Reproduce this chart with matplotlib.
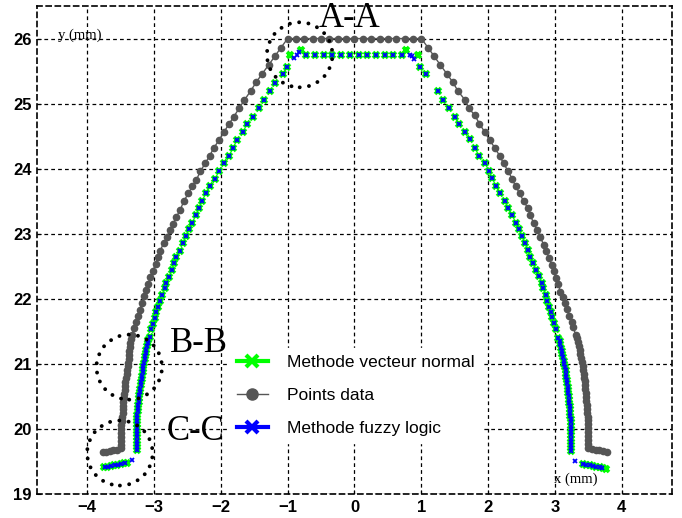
import numpy as np
import matplotlib
matplotlib.use("Agg")
import matplotlib.pyplot as plt
from matplotlib.lines import Line2D
from matplotlib.patches import Ellipse

plt.rcParams['font.family'] = ['Liberation Sans', 'DejaVu Sans']

# ─── Profile points (mm) ───
# measured data, left side from the foot up to the top corner
data_left_x = [-3.77, -3.72, -3.66, -3.61, -3.55, -3.50,
               -3.50, -3.50, -3.50, -3.49, -3.49, -3.49, -3.48, -3.48, -3.47, -3.47,
               -3.46, -3.46, -3.455, -3.45, -3.44, -3.435, -3.43, -3.42, -3.41, -3.40,
               -3.395, -3.385, -3.38, -3.375, -3.37, -3.36, -3.355, -3.345,
               -3.33, -3.30, -3.275, -3.245, -3.215, -3.185, -3.155, -3.115, -3.085,
               -3.055, -3.015, -2.975, -2.945, -2.905, -2.855, -2.805, -2.765, -2.715,
               -2.665, -2.605, -2.555, -2.485, -2.425, -2.365, -2.305, -2.235, -2.165,
               -2.105, -2.025, -1.955, -1.875, -1.805, -1.725, -1.65, -1.55, -1.47,
               -1.38, -1.28, -1.19, -1.10]
data_left_y = [19.64, 19.65, 19.66, 19.67, 19.68, 19.70,
               19.76, 19.82, 19.88, 19.94, 20.00, 20.06, 20.12, 20.18, 20.24, 20.30,
               20.36, 20.42, 20.48, 20.54, 20.60, 20.66, 20.72, 20.78, 20.84, 20.90,
               20.96, 21.02, 21.08, 21.14, 21.20, 21.26, 21.32, 21.38,
               21.45, 21.55, 21.64, 21.74, 21.83, 21.93, 22.04, 22.14, 22.23,
               22.33, 22.43, 22.54, 22.64, 22.74, 22.86, 22.95, 23.05, 23.15,
               23.26, 23.37, 23.50, 23.62, 23.73, 23.83, 23.96, 24.08, 24.20,
               24.32, 24.44, 24.56, 24.69, 24.80, 24.93, 25.05, 25.20, 25.33,
               25.46, 25.60, 25.73, 25.86]
# measured data, flat top
data_top_x = [-1.0, -0.875, -0.75, -0.625, -0.5, -0.375, -0.25, -0.125, 0.0,
              0.125, 0.25, 0.375, 0.5, 0.625, 0.75, 0.875, 1.0]
data_top_y = [26.0, 26.0, 26.0, 26.0, 26.0, 26.0, 26.0, 26.0, 26.0,
              26.0, 26.0, 26.0, 26.0, 26.0, 26.0, 26.0, 26.0]
# measured data, right side from the top corner down to the foot
data_right_x = [1.10, 1.19, 1.28, 1.38, 1.47, 1.55, 1.65, 1.71, 1.80, 1.87, 1.95,
                2.02, 2.10, 2.17, 2.23, 2.30, 2.36, 2.41, 2.47, 2.53, 2.59, 2.63,
                2.68, 2.73, 2.78, 2.83, 2.87, 2.91, 2.95, 2.98, 3.01, 3.05, 3.08,
                3.12, 3.15, 3.18, 3.21, 3.25, 3.27, 3.31,
                3.33, 3.345, 3.36, 3.37, 3.38, 3.395, 3.405, 3.415, 3.425, 3.43,
                3.44, 3.445, 3.45, 3.455, 3.46, 3.465, 3.47, 3.475, 3.48, 3.485,
                3.49, 3.495, 3.50, 3.50, 3.50, 3.50, 3.50, 3.50, 3.50,
                3.55, 3.61, 3.66, 3.72, 3.78]
data_right_y = [25.86, 25.73, 25.60, 25.46, 25.33, 25.19, 25.06, 24.93, 24.82, 24.69, 24.56,
                24.44, 24.32, 24.20, 24.08, 23.96, 23.84, 23.73, 23.62, 23.50, 23.40, 23.29,
                23.16, 23.06, 22.95, 22.83, 22.73, 22.63, 22.52, 22.42, 22.32, 22.22, 22.11,
                22.03, 21.93, 21.84, 21.74, 21.65, 21.56, 21.45,
                21.39, 21.33, 21.27, 21.21, 21.15, 21.09, 21.03, 20.97, 20.91, 20.85,
                20.79, 20.73, 20.67, 20.61, 20.55, 20.49, 20.43, 20.37, 20.31, 20.25,
                20.19, 20.13, 20.07, 20.01, 19.95, 19.89, 19.83, 19.77, 19.71,
                19.69, 19.68, 19.67, 19.66, 19.64]

# computed profile, wall points shared by both methods
wall_left_x = [-3.255, -3.26, -3.26, -3.26, -3.26, -3.26, -3.26, -3.26, -3.26, -3.255,
               -3.25, -3.25, -3.245, -3.24, -3.235, -3.23, -3.225, -3.22, -3.21, -3.205,
               -3.20, -3.19, -3.185, -3.18, -3.17, -3.165, -3.16, -3.15, -3.14, -3.135,
               -3.125, -3.115, -3.105, -3.095, -3.085,
               -3.065, -3.045, -3.015, -2.985, -2.965, -2.935, -2.905, -2.875, -2.835,
               -2.815, -2.775, -2.735, -2.705, -2.665, -2.615, -2.565, -2.515, -2.475,
               -2.425, -2.375, -2.325, -2.275, -2.215, -2.155, -2.085, -2.025, -1.955,
               -1.885, -1.825, -1.755, -1.675, -1.605, -1.515, -1.435, -1.355, -1.265,
               -1.185, -1.075, -1.005]
wall_left_y = [19.67, 19.72, 19.77, 19.82, 19.87, 19.92, 19.97, 20.02, 20.07, 20.12,
               20.17, 20.22, 20.27, 20.32, 20.37, 20.42, 20.47, 20.52, 20.57, 20.62,
               20.67, 20.72, 20.77, 20.82, 20.87, 20.92, 20.97, 21.02, 21.07, 21.12,
               21.17, 21.22, 21.27, 21.32, 21.37,
               21.42, 21.53, 21.62, 21.70, 21.79, 21.88, 21.97, 22.06, 22.16,
               22.25, 22.34, 22.45, 22.55, 22.64, 22.74, 22.86, 22.96, 23.07,
               23.17, 23.29, 23.40, 23.50, 23.62, 23.73, 23.84, 23.96, 24.08,
               24.20, 24.32, 24.44, 24.56, 24.69, 24.80, 24.93, 25.05, 25.19,
               25.32, 25.45, 25.57]
wall_top_x = [-0.72, -0.59, -0.46, -0.33, -0.20, -0.07, 0.06, 0.19, 0.32, 0.45, 0.58, 0.71]
wall_top_y = [25.75, 25.75, 25.75, 25.75, 25.75, 25.75, 25.75, 25.75, 25.75, 25.75, 25.75, 25.75]
wall_right_x = [0.975, 1.065, 1.25, 1.33, 1.41, 1.50, 1.57, 1.66, 1.73, 1.81, 1.87, 1.95,
                2.01, 2.06, 2.12, 2.18, 2.25, 2.30, 2.35, 2.41, 2.46, 2.50, 2.55, 2.60,
                2.63, 2.67, 2.72, 2.76, 2.80, 2.82, 2.86, 2.88, 2.91, 2.94, 2.96, 2.98,
                3.01, 3.05,
                3.07, 3.08, 3.09, 3.10, 3.11, 3.12, 3.13, 3.14, 3.15, 3.16, 3.165, 3.17,
                3.175, 3.18, 3.19, 3.195, 3.20, 3.205, 3.21, 3.215, 3.22, 3.225, 3.23,
                3.23, 3.235, 3.235, 3.24, 3.24, 3.24, 3.24, 3.24, 3.24, 3.24, 3.24, 3.245]
wall_right_y = [25.57, 25.45, 25.19, 25.06, 24.93, 24.80, 24.69, 24.56, 24.45, 24.32, 24.20, 24.08,
                23.97, 23.86, 23.73, 23.63, 23.51, 23.40, 23.29, 23.17, 23.07, 22.97, 22.86, 22.75,
                22.65, 22.55, 22.45, 22.35, 22.25, 22.16, 22.06, 21.97, 21.88, 21.80, 21.72, 21.63,
                21.53, 21.40,
                21.35, 21.30, 21.25, 21.20, 21.15, 21.10, 21.05, 21.00, 20.95, 20.90, 20.85, 20.80,
                20.75, 20.70, 20.65, 20.60, 20.55, 20.50, 20.45, 20.40, 20.35, 20.30, 20.25,
                20.20, 20.15, 20.10, 20.05, 20.00, 19.95, 19.90, 19.85, 19.80, 19.75, 19.70, 19.66]

# feet and corners, vecteur normal
normal_foot_left_x = [-3.75, -3.70, -3.65, -3.60, -3.55, -3.50, -3.45, -3.40]
normal_foot_left_y = [19.41, 19.42, 19.43, 19.44, 19.45, 19.46, 19.47, 19.48]
normal_corner_left_x = [-0.965, -0.805]
normal_corner_left_y = [25.74, 25.83]
normal_corner_right_x = [0.775, 0.955]
normal_corner_right_y = [25.82, 25.74]
normal_foot_right_x = [3.42, 3.47, 3.52, 3.57, 3.62, 3.67, 3.72, 3.77]
normal_foot_right_y = [19.46, 19.45, 19.44, 19.43, 19.42, 19.41, 19.40, 19.39]

# feet and corners, fuzzy logic
fuzzy_foot_left_x = [-3.74, -3.69, -3.64, -3.59, -3.54, -3.49, -3.44, -3.335]
fuzzy_foot_left_y = [19.41, 19.42, 19.43, 19.44, 19.45, 19.46, 19.47, 19.53]
fuzzy_corner_left_x = [-0.905, -0.865, -0.835]
fuzzy_corner_left_y = [25.70, 25.75, 25.79]
fuzzy_corner_right_x = [0.835, 0.865, 0.885]
fuzzy_corner_right_y = [25.75, 25.73, 25.69]
fuzzy_foot_right_x = [3.30, 3.42, 3.47, 3.52, 3.57, 3.62, 3.67, 3.71]
fuzzy_foot_right_y = [19.51, 19.46, 19.45, 19.44, 19.43, 19.42, 19.41, 19.40]

# zoomed sections: label, circle centre, label baseline
section_names = ["A-A", "B-B", "C-C"]
section_cx = [-0.82, -3.37, -3.51]
section_cy = [25.75, 20.95, 19.63]
label_x = [-0.07, -2.32, -2.38]
label_y = [26.17, 21.18, 19.83]

data_x = data_left_x + data_top_x + data_right_x
data_y = data_left_y + data_top_y + data_right_y
normal_x = (normal_foot_left_x + wall_left_x + normal_corner_left_x + wall_top_x
            + normal_corner_right_x + wall_right_x + normal_foot_right_x)
normal_y = (normal_foot_left_y + wall_left_y + normal_corner_left_y + wall_top_y
            + normal_corner_right_y + wall_right_y + normal_foot_right_y)
fuzzy_x = (fuzzy_foot_left_x + wall_left_x + fuzzy_corner_left_x + wall_top_x
           + fuzzy_corner_right_x + wall_right_x + fuzzy_foot_right_x)
fuzzy_y = (fuzzy_foot_left_y + wall_left_y + fuzzy_corner_left_y + wall_top_y
           + fuzzy_corner_right_y + wall_right_y + fuzzy_foot_right_y)

fig = plt.figure(figsize=(6.82, 5.18), dpi=100)
ax = fig.add_axes([37 / 682, 24 / 518, 635 / 682, 488 / 518])

ax.plot(data_x, data_y, '-o', color='#555555', lw=1.0, ms=4.5, mec='#555555', zorder=3)
ax.plot(normal_x, normal_y, 'x', color='#00ff00', ms=4.5, mew=2.6, zorder=4)
ax.plot(fuzzy_x, fuzzy_y, 'x', color='#0000ff', ms=3.2, mew=1.3, zorder=5)

for cx, cy in zip(section_cx, section_cy):
    circ = Ellipse((cx, cy), 0.98, 1.0, fill=False, ec='black', lw=2.8,
                   ls=(0, (0.01, 2.4)), zorder=6)
    circ.set_capstyle('round')
    ax.add_patch(circ)

for name, tx, ty in zip(section_names, label_x, label_y):
    ax.text(tx, ty, name, family='Liberation Serif', fontsize=25,
            ha='center', va='baseline', zorder=7)

ax.text(-4.11, 26.05, "y (mm)", family='Liberation Serif', fontsize=10.5,
        ha='center', va='center')
ax.text(3.31, 19.23, "x (mm)", family='Liberation Serif', fontsize=10.5,
        ha='center', va='center')

ax.set_xlim(-4.75, 4.75)
ax.set_ylim(19, 26.5)
ax.set_xticks(np.arange(-4, 5, 1))
ax.set_yticks(np.arange(19, 27, 1))
ax.tick_params(direction='in', length=3, labelsize=12, pad=4)
for lab in ax.get_xticklabels() + ax.get_yticklabels():
    lab.set_fontweight('bold')
ax.grid(True, color='black', ls=(0, (3, 2.5)), lw=0.9)
for sp in ax.spines.values():
    sp.set_linestyle((0, (3, 2.5)))
    sp.set_linewidth(1.2)

handles = [
    Line2D([], [], color='#00ff00', lw=3, marker='x', ms=8, mew=3),
    Line2D([], [], color='#555555', lw=1, marker='o', ms=8),
    Line2D([], [], color='#0000ff', lw=3, marker='x', ms=8, mew=3),
]
labels = ["Methode vecteur normal", "Points data", "Methode fuzzy logic"]
leg = ax.legend(handles, labels, loc='center', bbox_to_anchor=(0.502, 0.202),
                fontsize=12.5, frameon=True, fancybox=False, edgecolor='white',
                facecolor='white', framealpha=1, handlelength=1.8,
                handletextpad=1.1, labelspacing=1.05, borderpad=0.4)
leg.set_zorder(8)

fig.savefig("out.png", dpi=100)
